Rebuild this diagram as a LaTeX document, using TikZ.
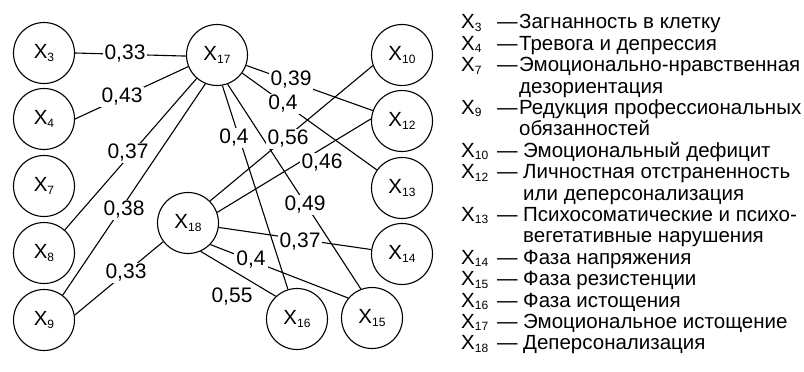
\documentclass[tikz,border=0pt]{standalone}
\usepackage{fontspec}
\setmainfont{Liberation Sans}
\newcommand{\xsub}[1]{X\raisebox{-2.5pt}{\fontsize{12}{12}\selectfont #1}}
\begin{document}
\begin{tikzpicture}[x=1pt,y=-1pt,
  vtx/.style={circle, draw, line width=1.1pt, minimum size=61pt, inner sep=0pt, font=\fontsize{20.5}{20.5}\selectfont},
  edge/.style={line width=1.1pt},
  wt/.style={fill=white, inner xsep=2pt, inner ysep=1pt, font=\fontsize{21}{21}\selectfont},
  lg/.style={anchor=base west, inner sep=0pt, font=\fontsize{20.5}{20.5}\selectfont}]
\useasboundingbox (0,0) rectangle (804,372);
% vertices
\node[vtx] (X3) at (44,53) {\xsub{3}};
\node[vtx] (X4) at (44,119) {\xsub{4}};
\node[vtx] (X7) at (44,186) {\xsub{7}};
\node[vtx] (X8) at (44,253) {\xsub{8}};
\node[vtx] (X9) at (44,320) {\xsub{9}};
\node[vtx] (X17) at (217,55) {\xsub{17}};
\node[vtx] (X18) at (188,223) {\xsub{18}};
\node[vtx] (X10) at (402,55) {\xsub{10}};
\node[vtx] (X12) at (402,121) {\xsub{12}};
\node[vtx] (X13) at (402,188) {\xsub{13}};
\node[vtx] (X14) at (402,254) {\xsub{14}};
\node[vtx] (X16) at (297,319) {\xsub{16}};
\node[vtx] (X15) at (372,318) {\xsub{15}};
% connectors
\draw[edge] (X3.east) -- (X17.182);
\draw[edge] (X4.east) -- (X17.202);
\draw[edge] (X8.48) -- (X17.229);
\draw[edge] (X9.53) -- (X17.248);
\draw[edge] (X9.9) -- (X18.217);
\draw[edge] (X17) -- (X12);
\draw[edge] (X17) -- (X13);
\draw[edge] (X17.280) -- (X16.107);
\draw[edge] (X17.290) -- (X15.111);
\draw[edge] (X18.45) -- (X10.200);
\draw[edge] (X18.20) -- (X12.176);
\draw[edge] (X18) -- (X14);
\draw[edge] (X18.316) -- (X15.140);
\draw[edge] (X18.294) -- (X16.133);
% weights
\node[wt] (w1) at (125,54) {0,33};
\node[wt] (w2) at (122,97) {0,43};
\node[wt] (w3) at (128,153) {0,37};
\node[wt] (w4) at (124,210) {0,38};
\node[wt] (w5) at (126,273) {0,33};
\node[wt] (w6) at (291,80) {0,39};
\node[wt] (w7) at (283,104) {0,4};
\node[wt] (w8) at (234,138) {0,4};
\node[wt] (w9) at (288,139) {0,56};
\node[wt] (w10) at (322,163) {0,46};
\node[wt] (w11) at (305,205) {0,49};
\node[wt] (w12) at (300,242) {0,37};
\node[wt] (w13) at (251,260) {0,4};
\node[wt] (w14) at (232,297) {0,55};
% legend
\foreach \i/\k/\t/\tx in {0/3/Загнанность в клетку/519,
  1/4/Тревога и депрессия/519,
  2/7/Эмоционально-нравственная/519,
  4/9/Редукция профессиональных/519,
  6/10/Эмоциональный дефицит/523,
  7/12/Личностная отстраненность/523,
  9/13/Психосоматические и психо-/523,
  11/14/Фаза напряжения/523,
  12/15/Фаза резистенции/523,
  13/16/Фаза истощения/523,
  14/17/Эмоциональное истощение/523,
  15/18/Деперсонализация/523}{
  \node[lg] (k\i) at (461,{28.8+21.4*\i}) {\xsub{\k}};
  \node[lg] (d\i) at (497,{28.8+21.4*\i}) {—};
  \node[lg] (t\i) at (\tx,{28.8+21.4*\i}) {\t};
}
\foreach \i/\t/\tx in {3/дезориентация/519, 5/обязанностей/519,
  8/или деперсонализация/523, 10/вегетативные нарушения/523}{
  \node[lg] (t\i) at (\tx,{28.8+21.4*\i}) {\t};
}
\end{tikzpicture}
\end{document}
